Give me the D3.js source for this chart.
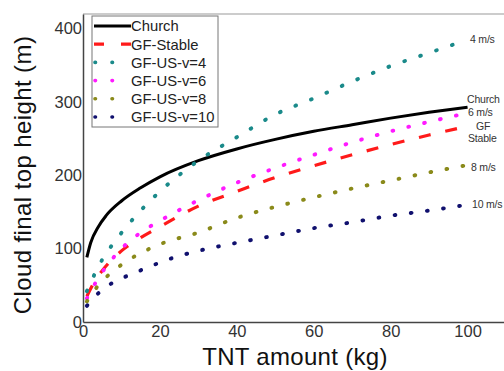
<!DOCTYPE html>
<html><head><meta charset="utf-8">
<script src="https://cdn.jsdelivr.net/npm/d3@7"></script>
<style>body{margin:0;background:#fff}svg{display:block;font-family:"Liberation Sans",Arial,sans-serif}</style>
</head><body><svg id="c" width="504" height="371"></svg>
<script>
const xTicks = [0,20,40,60,80,100];
const yTicks = [0,100,200,300,400];
const seriesNames = ["Church","GF-Stable","GF-US-v=4","GF-US-v=6","GF-US-v=8","GF-US-v=10"];
const churchX = [1,2,4,6,10,15,20,30,40,50,60,70,80,90,100];
const churchY = [88,108,130,145,165,183,198,220,236,249,260,269,278,286,293];
const stableX = [1,3,5,10,15,20,30,40,50,60,70,80,90,100];
const stableY = [35,55,70,97,115,130,158,178,197,213,228,242,255,267];
const v4X = [1,3,5,8,11,15,20,30,40,50,60,70,80,90,100];
const v4Y = [42,65,85,108,128,152,178,220,252,283,305,328,349,367,385];
const v6X = [1,4,7,10,15,20,30,40,50,60,70,80,90,100];
const v6Y = [32,60,82,100,122,138,166,190,210,228,245,260,273,285];
const v8X = [1,4,8,12,20,30,40,50,60,70,80,90,100];
const v8Y = [28,50,70,85,106,122,142,157,170,182,193,204,214];
const v10X = [1,5,9,13,18,22,30,40,50,60,70,80,90,100];
const v10Y = [22,44,57,66,77,85,97,108,118,128,136,145,152,160];
const endLabels = [["4 m/s",386,470],["Church",304,467],["6 m/s",286,468],["GF",267,476],["Stable",251,468],["8 m/s",211,471],["10 m/s",161,472]];

const svg = d3.select("#c");
const L=83, T=14, B=322, R=506;
const x = d3.scaleLinear().domain([0,110]).range([L,R]);
const y = d3.scaleLinear().domain([0,420]).range([B,T]);

const series = [
 {xs:churchX, ys:churchY, color:"#000", w:3, dash:null, cap:"butt"},
 {xs:stableX, ys:stableY, color:"#ff1a1a", w:3.2, dash:"12,15", cap:"butt"},
 {xs:v4X, ys:v4Y, color:"#1a8a8a", w:3.9, dash:"0.8,16", cap:"round"},
 {xs:v6X, ys:v6Y, color:"#ff1aff", w:3.9, dash:"0.8,15.5", cap:"round"},
 {xs:v8X, ys:v8Y, color:"#8a8a1a", w:3.9, dash:"0.8,15.5", cap:"round"},
 {xs:v10X, ys:v10Y, color:"#10106e", w:3.9, dash:"0.8,15.5", cap:"round"}
];

// frame
svg.append("line").attr("x1",L).attr("x2",504).attr("y1",T).attr("y2",T).attr("stroke","#999").attr("stroke-width",1);

const line = d3.line().x(d=>x(d[0])).y(d=>y(d[1])).curve(d3.curveMonotoneX);
series.forEach(s=>{
  const pts = s.xs.map((v,i)=>[v,s.ys[i]]);
  svg.append("path").attr("d",line(pts)).attr("fill","none").attr("stroke",s.color)
    .attr("stroke-width",s.w).attr("stroke-dasharray",s.dash).attr("stroke-linecap",s.cap);
});

// axes
const xAxis = svg.append("g").attr("transform",`translate(0,${B})`)
  .call(d3.axisBottom(x).tickValues(xTicks).tickSize(0).tickPadding(3));
const yAxis = svg.append("g").attr("transform",`translate(${L},0)`)
  .call(d3.axisLeft(y).tickValues(yTicks).tickSize(0).tickPadding(1));
[xAxis,yAxis].forEach(a=>{
  a.select(".domain").attr("stroke","#444").attr("stroke-width",1.5);
  a.selectAll("text").attr("font-size",16.5).attr("fill","#333").attr("font-family","Liberation Sans, Arial, sans-serif");
});

// axis titles
svg.append("text").attr("x",295).attr("y",365).attr("text-anchor","middle")
  .attr("font-size",24).attr("letter-spacing","0.3").attr("fill","#111").text("TNT amount (kg)");
svg.append("text").attr("transform","translate(31,175) rotate(-90)").attr("text-anchor","middle")
  .attr("font-size",24).attr("letter-spacing","0.4").attr("fill","#111").text("Cloud final top height (m)");

// end labels
endLabels.forEach(([t,v,xx])=>{
  svg.append("text").attr("x",xx).attr("y",y(v)).attr("dy","0.35em")
    .attr("font-size",10.5).attr("fill","#333").attr("letter-spacing","-0.2").text(t);
});

// legend
const lg = svg.append("g");
lg.append("rect").attr("x",92).attr("y",16).attr("width",126).attr("height",111)
  .attr("fill","#fff").attr("stroke","#777").attr("stroke-width",1);
seriesNames.forEach((n,i)=>{
  const s = series[i];
  const yy = 26 + i*18.2;
  if(i===0){
    lg.append("line").attr("x1",94).attr("x2",131).attr("y1",yy).attr("y2",yy).attr("stroke","#000").attr("stroke-width",3);
  } else if(i===1){
    lg.append("line").attr("x1",94).attr("x2",131).attr("y1",yy).attr("y2",yy).attr("stroke",s.color).attr("stroke-width",3.2).attr("stroke-dasharray","10,17");
  } else {
    lg.append("line").attr("x1",95).attr("x2",129).attr("y1",yy).attr("y2",yy).attr("stroke",s.color).attr("stroke-width",3.6).attr("stroke-dasharray","0.5,16.5").attr("stroke-linecap","round");
  }
  lg.append("text").attr("x",131).attr("y",yy).attr("dy","0.36em").attr("font-size",14.8).attr("fill","#222").text(n);
});
</script></body></html>
